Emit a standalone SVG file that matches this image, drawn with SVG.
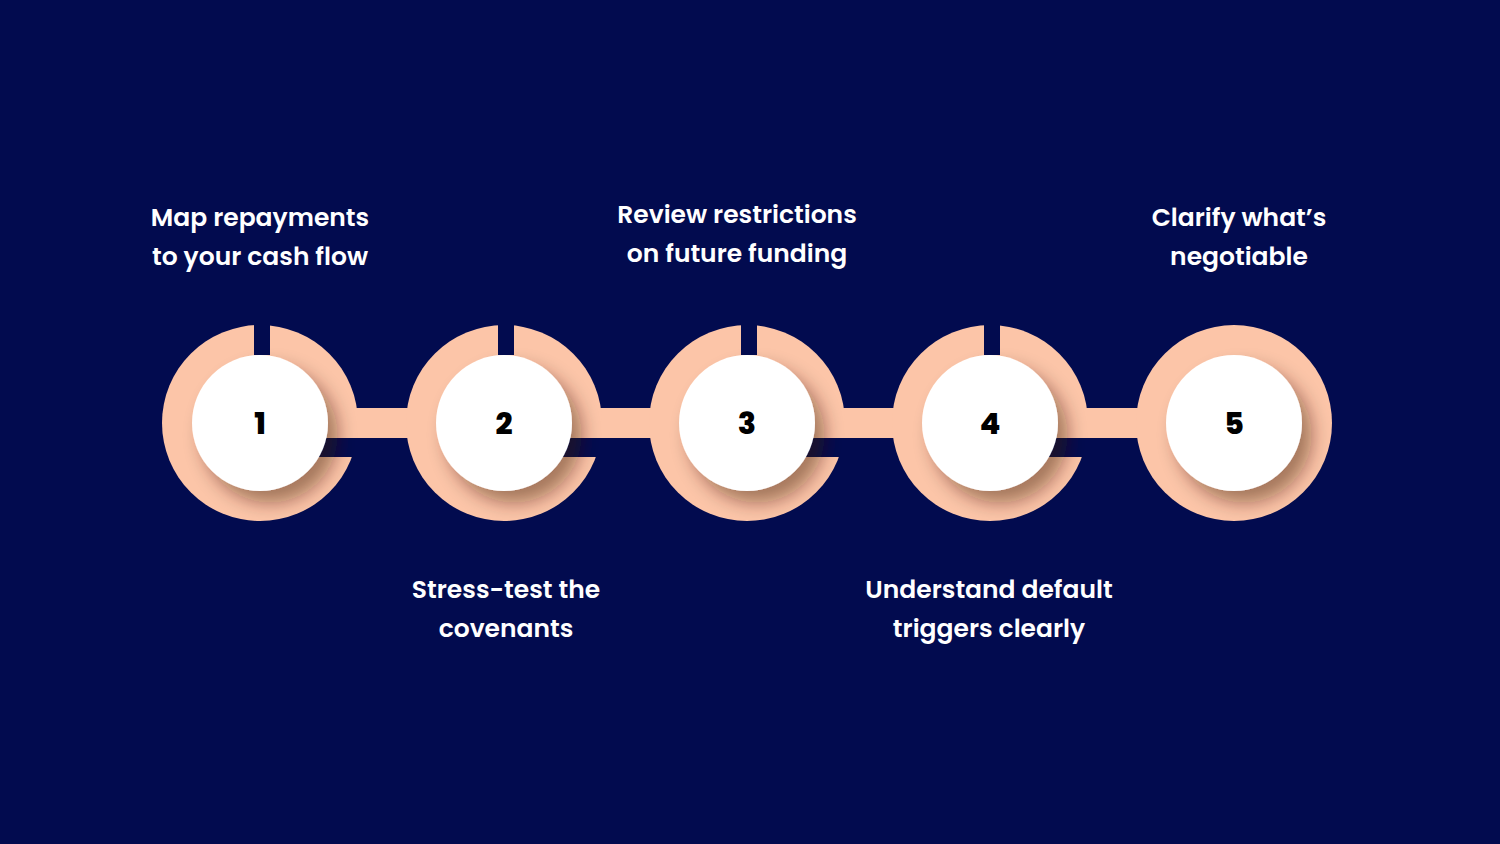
<svg xmlns="http://www.w3.org/2000/svg" width="1500" height="844" viewBox="0 0 1500 844">
<style>
.lbl{font-family:Poppins,Inter,"Noto Sans",sans-serif;font-weight:600;font-size:25px;fill:#fff;text-anchor:middle}
.num{font-family:Poppins,Inter,"Noto Sans",sans-serif;font-weight:800;font-size:30px;fill:#000;text-anchor:middle}
.ring{fill:#fcc5a8}
.disc{fill:#fff}
</style>
<defs>
<filter id="sh" x="-50%" y="-50%" width="200%" height="200%">
<feDropShadow dx="10" dy="12" stdDeviation="9" flood-color="#3a1a10" flood-opacity="0.45"/>
</filter>
<mask id="m1" maskUnits="userSpaceOnUse" x="-120" y="-120" width="240" height="240">
<rect x="-120" y="-120" width="240" height="240" fill="#fff"/>
<rect x="-6" y="-110" width="16" height="42" fill="#000"/>
<rect x="35" y="15" width="80" height="19" fill="#000"/>
</mask>
</defs>
<rect width="1500" height="844" fill="#020b4f"/>
<g id="connectors">
<rect x="340" y="408" width="80" height="30" class="ring"/>
<rect x="585" y="408" width="80" height="30" class="ring"/>
<rect x="828" y="408" width="80" height="30" class="ring"/>
<rect x="1070" y="408" width="80" height="30" class="ring"/>
</g>
<g id="node1" transform="translate(260,423)">
<circle r="98" class="ring" mask="url(#m1)"/>
<circle r="68" class="disc" filter="url(#sh)"/>
<text class="num" y="11">1</text>
</g>
<g id="node2" transform="translate(504,423)">
<circle r="98" class="ring" mask="url(#m1)"/>
<circle r="68" class="disc" filter="url(#sh)"/>
<text class="num" y="11">2</text>
</g>
<g id="node3" transform="translate(747,423)">
<circle r="98" class="ring" mask="url(#m1)"/>
<circle r="68" class="disc" filter="url(#sh)"/>
<text class="num" y="11">3</text>
</g>
<g id="node4" transform="translate(990,423)">
<circle r="98" class="ring" mask="url(#m1)"/>
<circle r="68" class="disc" filter="url(#sh)"/>
<text class="num" y="11">4</text>
</g>
<g id="node5" transform="translate(1234,423)">
<circle r="98" class="ring"/>
<circle r="68" class="disc" filter="url(#sh)"/>
<text class="num" y="11">5</text>
</g>
<g id="labels">
<text class="lbl" x="260" y="226">Map repayments</text>
<text class="lbl" x="260" y="265">to your cash flow</text>
<text class="lbl" x="506" y="598">Stress-test the</text>
<text class="lbl" x="506" y="637">covenants</text>
<text class="lbl" x="737" y="223">Review restrictions</text>
<text class="lbl" x="737" y="262">on future funding</text>
<text class="lbl" x="989" y="598">Understand default</text>
<text class="lbl" x="989" y="637">triggers clearly</text>
<text class="lbl" x="1239" y="226">Clarify what’s</text>
<text class="lbl" x="1239" y="265">negotiable</text>
</g>
</svg>
